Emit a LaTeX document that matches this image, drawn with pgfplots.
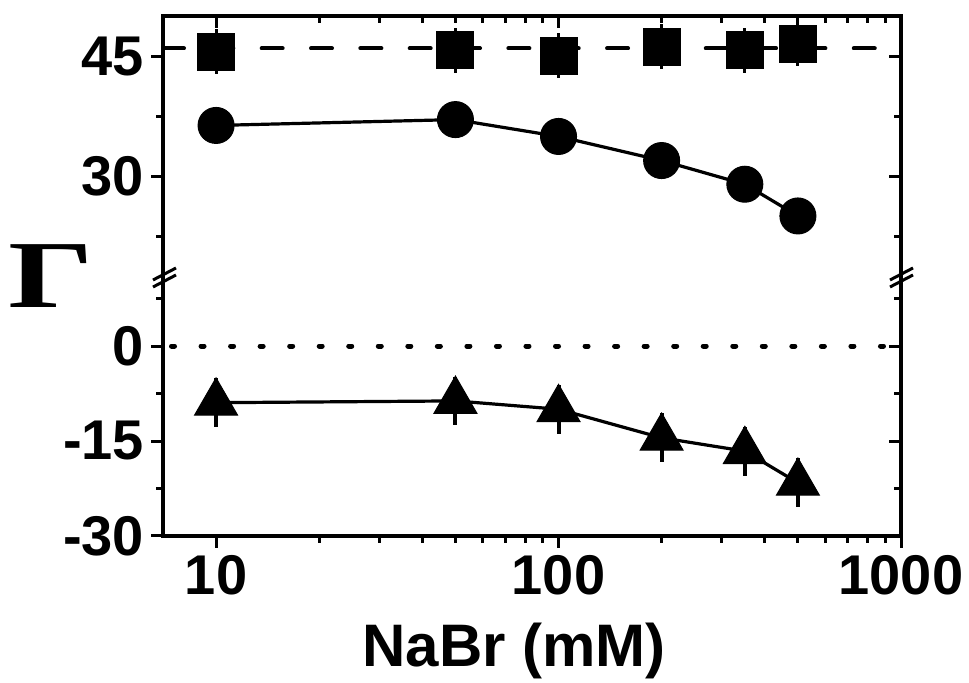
\documentclass[border=0pt]{standalone}
\usepackage{fontspec}
\setmainfont{Liberation Sans}
\newfontfamily\serifGamma{Liberation Serif}
\usepackage{graphicx}
\usepackage{pgfplots}
\pgfplotsset{compat=1.18}
\pgfplotsset{
  every axis/.append style={
    scale only axis, width=369pt,
    axis line style={draw=none},
    major tick length=6pt, minor tick length=3.5pt,
    tick style={black, line width=1.5pt},
    tick label style={font=\fontsize{28}{28}\selectfont\bfseries},
    clip=false,
  },
}
\begin{document}
\begin{tikzpicture}
% ---------- upper part ----------
\begin{axis}[xmode=log, xmin=7, xmax=1000, name=topA, at={(81.5pt,-8pt)}, anchor=north west, height=130.5pt,
  ymin=17.5, ymax=50, ytick={30,45}, yticklabels={30,45}, minor ytick={22.5,37.5},
  ytick pos=left, tick align=outside, xtick=\empty]
\addplot[black, line width=2pt, dash pattern=on 10.5pt off 14.17pt, line cap=round]
  coordinates {(7,45.96) (1000,45.96)};
\addplot[black, only marks, mark=square*, mark size=9.25pt, mark options={solid,line width=0.5pt},
  error bars/.cd, y dir=both, y explicit, error mark=none, error bar style={line width=1.5pt}]
  coordinates {(10,45.55) +- (0,2.8) (50,45.74) +- (0,2.8) (100,45.05) +- (0,2.8)
               (200,46.2) +- (0,2.8) (350,45.75) +- (0,2.8) (500,46.56) +- (0,2.8)};
\addplot[black, line width=1.6pt, mark=*, mark size=9pt, mark options={solid,line width=0.5pt}]
  coordinates {(10,36.37) (50,37.1) (100,35.0) (200,32.0) (350,29.05) (500,25.1)};
\end{axis}
\begin{axis}[xmode=log, xmin=7, xmax=1000, name=topB, at={(81.5pt,-8pt)}, anchor=north west, height=130.5pt,
  ymin=17.5, ymax=50, ytick={30,45}, yticklabels={,}, minor ytick={22.5,37.5},
  ytick pos=right, xtick pos=top, tick align=inside,
  xtick={10,100,1000}, xticklabels={,,}]
\end{axis}
% ---------- lower part ----------
\begin{axis}[xmode=log, xmin=7, xmax=1000, name=botA, at={(81.5pt,-138.5pt)}, anchor=north west, height=129.5pt,
  ymin=-30, ymax=10.9, ytick={-30,-15,0}, yticklabels={-30,-15,0}, minor ytick={-22.5,-7.5,7.5},
  ytick pos=left, xtick pos=bottom, tick align=outside,
  xtick={10,100,1000}, xticklabels={10,100,1000}]
\addplot[black, line width=2.5pt, dash pattern=on 1.5pt off 13.27pt, dash phase=10.52pt, line cap=round]
  coordinates {(7,0) (1000,0)};
\addplot[black, line width=1.6pt, mark=triangle*, mark size=12.4pt, mark options={solid,line width=0.5pt},
  error bars/.cd, y dir=both, y explicit, error mark=none, error bar style={line width=2pt}]
  coordinates {(10,-8.95) +- (0,3.85) (50,-8.67) +- (0,3.85) (100,-9.98) +- (0,3.85)
               (200,-14.5) +- (0,3.85) (350,-16.6) +- (0,3.85) (500,-21.6) +- (0,3.85)};
\end{axis}
\begin{axis}[xmode=log, xmin=7, xmax=1000, name=botB, at={(81.5pt,-138.5pt)}, anchor=north west, height=129.5pt,
  ymin=-30, ymax=10.9, ytick={-30,-15,0}, yticklabels={,,}, minor ytick={-22.5,-7.5,7.5},
  ytick pos=right, tick align=inside, xtick=\empty]
\end{axis}
% frame and break marks
\draw[line width=2pt] (topA.north west) rectangle (botA.south east);
\draw[line width=1.5pt] (76.5pt,-140pt) -- (88pt,-134pt) (76.5pt,-143.5pt) -- (88pt,-137.5pt);
\draw[line width=1.5pt] (445pt,-140pt) -- (456.5pt,-134pt) (445pt,-143.5pt) -- (456.5pt,-137.5pt);
% labels
\node at (25.5pt,-138pt) {\serifGamma\bfseries\fontsize{48}{48}\selectfont\scalebox{1.4}[1]{Γ}};
\node[anchor=base] at (257pt,-333.5pt) {\fontsize{30}{30}\selectfont\bfseries NaBr (mM)};
\pgfresetboundingbox
\path[use as bounding box] (0pt,0pt) rectangle (484.5pt,-341.5pt);
\end{tikzpicture}
\end{document}
